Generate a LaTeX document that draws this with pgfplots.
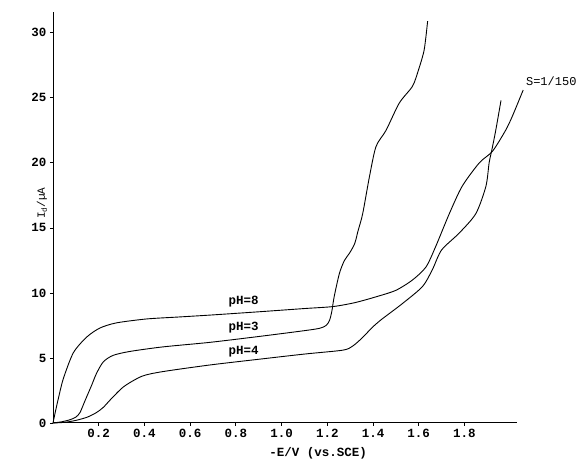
\documentclass[border=0pt]{standalone}
\usepackage{fontspec}
\setmainfont{Liberation Mono}
\usepackage{pgfplots}
\pgfplotsset{compat=1.18}
\begin{document}
\begin{tikzpicture}
\useasboundingbox (0,0) rectangle (588pt,462pt);
\begin{axis}[
  at={(53pt,39pt)}, anchor=south west, scale only axis,
  width=464pt, height=411pt,
  xmin=0, xmax=2.03, ymin=0, ymax=31.6,
  axis x line=bottom, axis y line=left,
  axis line style={-, line width=1pt, black},
  xtick={0.2,0.4,0.6,0.8,1.0,1.2,1.4,1.6,1.8},
  ytick={0,5,10,15,20,25,30},
  tick align=outside, major tick length=3pt,
  tick style={black, line width=0.8pt},
  x tick label style={/pgf/number format/fixed, /pgf/number format/precision=1, /pgf/number format/fixed zerofill},
  /pgf/number format/assume math mode=true,
  tick label style={font=\fontsize{12.5}{14}\selectfont\bfseries},
  clip=false,
  curve/.style={black, line width=0.9pt, smooth, tension=0.45, mark=none}
]
% pH=8
\addplot[curve] coordinates {
(0,0) (0.012,1.0) (0.025,2.0) (0.045,3.4) (0.089,5.4) (0.147,6.6) (0.205,7.3)
(0.278,7.7) (0.41,8.0) (0.55,8.15) (0.69,8.3) (0.9,8.55) (1.1,8.8) (1.224,8.95)
(1.32,9.25) (1.413,9.7) (1.50,10.2) (1.573,11.0) (1.632,12.0) (1.675,13.6)
(1.734,16.1) (1.79,18.2) (1.865,20.0) (1.923,20.9) (1.98,22.5) (2.01,23.6) (2.057,25.6)
};
% pH=3
\addplot[curve] coordinates {
(0,0) (0.04,0.1) (0.074,0.25) (0.1,0.45) (0.118,0.8) (0.135,1.5) (0.147,2.0)
(0.169,2.9) (0.19,3.8) (0.22,4.7) (0.263,5.2) (0.336,5.5) (0.48,5.85) (0.686,6.2)
(0.9,6.65) (1.1,7.1) (1.166,7.28) (1.195,7.5) (1.21,7.9) (1.22,8.6) (1.23,9.7)
(1.253,11.5) (1.275,12.5) (1.297,13.05) (1.32,13.8) (1.335,14.8) (1.355,16.1)
(1.384,18.9) (1.413,21.25) (1.457,22.5) (1.515,24.6) (1.573,25.9) (1.60,27.2)
(1.624,28.7) (1.639,30.9)
};
% pH=4
\addplot[curve] coordinates {
(0,0) (0.05,0.05) (0.10,0.2) (0.15,0.45) (0.19,0.8) (0.22,1.2) (0.25,1.77)
(0.31,2.8) (0.39,3.6) (0.48,3.95) (0.686,4.46) (0.9,4.9) (1.1,5.3) (1.268,5.6)
(1.31,5.9) (1.35,6.5) (1.40,7.4) (1.44,8.0) (1.53,9.2) (1.617,10.5) (1.66,11.8)
(1.70,13.3) (1.777,14.6) (1.85,16.1) (1.894,18.2) (1.908,20.0) (1.92,21)
(1.937,22.5) (1.96,24.8)
};
\node[font=\fontsize{12.5}{14}\selectfont\bfseries] at (axis cs:0.834,9.3) {pH=8};
\node[font=\fontsize{12.5}{14}\selectfont\bfseries] at (axis cs:0.834,7.33) {pH=3};
\node[font=\fontsize{12.5}{14}\selectfont\bfseries] at (axis cs:0.834,5.48) {pH=4};
\node[font=\fontsize{12}{14}\selectfont] at (axis cs:2.18,26.3) {S=1/150};
\node[font=\fontsize{12.5}{14}\selectfont\bfseries] at (axis cs:1.16,-2.35) {-E/V (vs.SCE)};
\node[font=\fontsize{11}{13}\selectfont, rotate=90] at (axis cs:-0.048,16.9) {I$_{\mathrm{d}}$/\textmu A};
\end{axis}
\end{tikzpicture}
\end{document}
